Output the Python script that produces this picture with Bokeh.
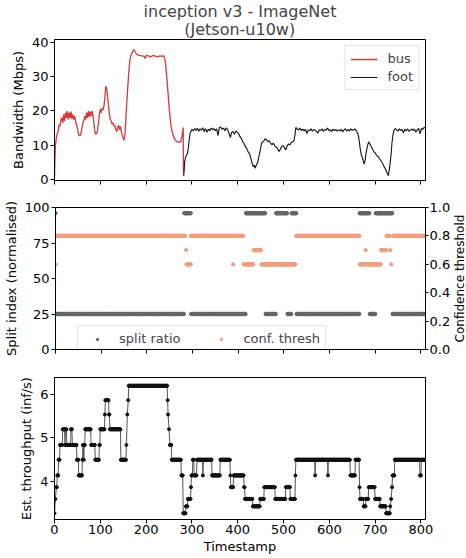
import math
from bokeh.plotting import figure
from bokeh.layouts import column, row
from bokeh.models import (Range1d, LinearAxis, Legend, LegendItem, Title, FixedTicker, PrintfTickFormatter,
                          Spacer)
from bokeh.core.properties import value
from bokeh.embed import file_html
from bokeh.resources import INLINE

FONT = "DejaVu Sans"

# ---------------- data ----------------
bus_t = [0, 1, 2, 4, 6, 8, 10, 12, 14, 16, 18, 20, 22, 24, 26, 28, 30, 32, 34, 36, 38, 40, 42, 44, 46, 48,
         50, 52, 54, 56, 58, 60, 62, 64, 66, 68, 70, 72, 74, 76, 78, 80, 82, 84, 86, 88, 90, 92, 94, 96, 98,
         100, 102, 104, 106, 108, 110, 112, 114, 116, 118, 120, 122, 124, 126, 128, 130, 132, 134, 136, 138,
         140, 142, 144, 146, 148, 150, 152, 154, 156, 158, 160, 162, 164, 166, 168, 170, 172, 174, 176, 178,
         180, 185, 190, 195, 198, 200, 205, 210, 215, 220, 225, 230, 235, 238, 240, 242, 244, 246, 248, 250,
         252, 254, 256, 258, 260, 262, 264, 266, 268, 270, 272, 274, 276, 278, 280, 281, 281.5]
bus_bw = [0.5, 6, 10, 12, 13.5, 14, 16, 15.5, 17.5, 18, 16.5, 19, 17, 19.5, 18, 20, 17.5, 19.5, 18, 19.8, 17.6,
          19, 17.5, 18.5, 17, 16, 15, 13.5, 12.8, 12.8, 13.5, 15, 16.5, 17.2, 18.5, 17.5, 19.5, 18, 20, 18.3,
          19.8, 18.5, 20, 18.8, 16.5, 14, 13.2, 13.4, 14.5, 16.5, 19, 20.5, 19.5, 20.8, 20.3, 21.5, 24, 27.2,
          26.5, 24, 21.5, 19, 17.5, 17, 16.2, 16.5, 15.5, 15.8, 14.5, 14, 15.2, 15.8, 14.5, 15.5, 13.8, 12.8,
          12, 11.5, 13.5, 18, 23, 27, 31, 34, 35.8, 36.5, 37.2, 37.8, 37.9, 37.3, 36.8, 36.5, 36.2, 36.1, 36,
          35.3, 36.2, 36.1, 35.8, 36.2, 36, 35.8, 36.1, 35.9, 36.2, 35.5, 34.5, 31.5, 28.5, 25, 21.5, 18.5, 16,
          14.5, 13.5, 12.5, 12, 11.5, 11.2, 11, 11, 10.8, 11, 11.2, 12.5, 14, 15.2, 1.8]

foot_t = [282, 283, 284, 286, 288, 290, 292, 294, 296, 298, 300, 303, 306, 309, 312, 315, 318, 321, 324, 327,
          330, 333, 336, 339, 342, 345, 348, 351, 354, 357, 360, 363, 366, 369, 372, 375, 378, 381, 384, 387,
          390, 393, 396, 399, 402, 405, 408, 411, 414, 417, 420, 423, 426, 429, 432, 434, 436, 438, 440, 442,
          444, 446, 448, 450, 452, 454, 457, 460, 463, 466, 469, 472, 475, 478, 481, 484, 487, 490, 493, 496,
          499, 502, 505, 508, 511, 514, 517, 520, 523, 525, 527, 530, 533, 536, 539, 542, 545, 548, 551, 554,
          557, 560, 563, 566, 569, 572, 575, 578, 581, 584, 587, 590, 593, 596, 599, 602, 605, 608, 611, 614,
          617, 620, 623, 626, 629, 632, 635, 638, 641, 644, 647, 650, 653, 656, 659, 662, 664, 666, 668, 670,
          672, 674, 676, 678, 680, 682, 684, 686, 688, 690, 692, 694, 696, 698, 700, 702, 704, 706, 708, 710,
          712, 714, 716, 718, 720, 722, 724, 726, 728, 729, 731, 733, 735, 737, 739, 741, 744, 747, 750, 753,
          756, 759, 762, 765, 768, 771, 774, 777, 780, 783, 786, 789, 792, 795, 798, 801, 804, 807, 810]
foot_bw = [1, 2.5, 5, 6.5, 7, 7.5, 9, 11.5, 13.5, 14, 14.6, 14.2, 14.9, 14.3, 15, 14.1, 14.8, 14.4, 15.1, 14,
           14.8, 13.8, 14.7, 14.2, 15, 14.5, 14.9, 14.2, 14.8, 12.8, 15.2, 15.3, 14.6, 15, 14.2, 15.1, 14.5,
           13.5, 12.2, 13.8, 14, 13.2, 14.2, 13.8, 13.4, 12.5, 12, 11, 10.5, 9.5, 9, 8, 7.5, 6, 4.5, 3.8, 4.2,
           3.3, 4, 4.6, 5.2, 6.5, 7.8, 9, 10.5, 11, 11.2, 11.9, 11.6, 11, 11.3, 10.5, 10.2, 10.6, 9.8, 9.5, 9,
           8.2, 8.8, 9.6, 9.9, 9.3, 8.6, 9.8, 10.4, 10.1, 10.8, 11, 11.3, 13, 15.2, 14.7, 14.5, 15, 14.3, 14.7,
           14.2, 14.6, 13.4, 14.5, 14.2, 14.8, 14.1, 14.6, 14.4, 14.1, 13.5, 14.5, 14.3, 14.8, 14, 14.6, 14.4,
           15, 14.3, 14.5, 14, 14.7, 14.3, 14.6, 14.1, 14.5, 14.2, 14.7, 13.9, 14.5, 14.8, 14.1, 14.6, 14.2,
           14.8, 14.3, 14.6, 14.7, 14.2, 13.5, 12.5, 10.5, 8.5, 7, 6.5, 5.5, 4.5, 5.5, 7.5, 9, 10.2, 11, 10.5,
           10, 9.5, 9, 8.4, 8, 7.8, 7.3, 7, 6.7, 6.5, 6, 5.6, 5.2, 4.8, 4.2, 3.6, 3.2, 2.6, 2, 1.4, 1.1, 3, 5,
           7.5, 11, 13, 14.2, 14.9, 14.5, 14.1, 14.8, 14.3, 14.6, 13.6, 14.7, 14.2, 14.8, 14.1, 14.4, 14.8,
           14.3, 14.7, 13.8, 14.5, 14.9, 13.3, 14.9, 14.6, 15.2, 15]

# runs of (first timestamp, last timestamp, value)
split_runs = [(0, 0, 96), (2, 281, 25), (282, 296, 96), (297, 416, 25), (417, 459, 96), (460, 482, 25),
              (483, 507, 96), (508, 516, 25), (517, 527, 96), (528, 665, 25), (666, 687, 96), (688, 700, 25),
              (701, 737, 96), (738, 810, 25)]
conf_runs = [(0, 0, 0.6), (2, 284, 0.8), (286, 286, 0.7), (287, 296, 0.6), (297, 387, 0.8), (389, 389, 0.6),
             (391, 411, 0.8), (412, 433, 0.6), (434, 450, 0.7), (451, 525, 0.6), (527, 665, 0.8),
             (666, 677, 0.6), (679, 679, 0.7), (681, 712, 0.6), (713, 724, 0.7), (725, 731, 0.8),
             (733, 733, 0.7), (735, 735, 0.6), (739, 810, 0.8)]
thr_runs = [(0, 0, 3.27), (2, 2, 3.6), (4, 5, 3.87), (6, 8, 4.14), (9, 11, 4.5), (12, 17, 4.84), (18, 22, 5.2),
            (23, 23, 4.84), (24, 26, 5.2), (27, 35, 4.84), (36, 38, 5.2), (39, 48, 4.84), (49, 52, 4.5),
            (53, 60, 4.14), (61, 61, 4.5), (62, 63, 4.84), (64, 64, 4.5), (65, 66, 4.84), (67, 79, 5.2),
            (80, 88, 4.84), (89, 97, 4.5), (98, 99, 4.84), (100, 109, 5.2), (110, 110, 5.54), (111, 118, 5.87),
            (119, 120, 5.54), (121, 144, 5.2), (145, 156, 4.5), (157, 157, 4.84), (159, 159, 5.54),
            (161, 161, 5.87), (162, 246, 6.2), (247, 247, 5.87), (248, 248, 5.54), (250, 250, 5.2),
            (252, 255, 4.84), (256, 276, 4.5), (277, 280, 4.14), (281, 286, 3.27), (287, 290, 3.43),
            (291, 297, 3.6), (298, 298, 3.87), (299, 301, 4.14), (302, 304, 4.5), (305, 310, 4.14),
            (311, 323, 4.5), (324, 324, 4.14), (325, 343, 4.5), (344, 361, 4.14), (362, 383, 4.5),
            (384, 384, 4.14), (385, 390, 3.87), (391, 413, 4.14), (414, 415, 3.87), (416, 432, 3.6),
            (433, 448, 3.43), (449, 457, 3.6), (458, 481, 3.87), (482, 504, 3.6), (505, 514, 3.87),
            (515, 525, 3.6), (526, 526, 4.14), (527, 568, 4.5), (569, 569, 4.14), (570, 596, 4.5),
            (597, 597, 4.14), (598, 645, 4.5), (646, 656, 4.14), (657, 665, 4.5), (666, 666, 3.87),
            (667, 674, 3.6), (675, 679, 3.43), (680, 685, 3.6), (686, 699, 3.87), (700, 710, 3.6),
            (711, 723, 3.43), (724, 732, 3.27), (733, 733, 3.43), (735, 735, 3.6), (737, 737, 3.87),
            (738, 742, 4.14), (743, 797, 4.5), (798, 800, 4.14), (801, 810, 4.5)]

x_ticks = [0, 100, 200, 300, 400, 500, 600, 700, 800]
bw_ticks = [0, 10, 20, 30, 40]
split_ticks = [0, 25, 50, 75, 100]
conf_ticks = [0.0, 0.2, 0.4, 0.6, 0.8, 1.0]
thr_ticks = [4, 5, 6]


def expand(runs):
    ts, vs = [], []
    for s, e, v in runs:
        for t in range(s, e + 1):
            ts.append(t)
            vs.append(v)
    return ts, vs


def style(p):
    p.outline_line_color = "black"
    p.outline_line_width = 1
    p.outline_line_alpha = 1
    p.xgrid.visible = False
    p.ygrid.visible = False
    p.background_fill_color = "white"
    p.border_fill_color = "white"
    for ax in p.axis:
        ax.axis_line_color = "black"
        ax.major_tick_line_color = "black"
        ax.minor_tick_line_color = None
        ax.major_tick_out = 4
        ax.major_tick_in = 0
        ax.major_label_text_font = FONT
        ax.major_label_text_font_size = "13px"
        ax.major_label_text_color = "black"
        ax.axis_label_text_font = FONT
        ax.axis_label_text_font_size = "13px"
        ax.axis_label_text_font_style = "normal"
        ax.axis_label_text_color = "black"
        ax.major_label_standoff = 2
        ax.axis_label_standoff = 3


def hide_x_labels(p):
    p.xaxis.major_label_text_font_size = "1px"
    p.xaxis.major_label_text_color = None
    p.xaxis.major_label_standoff = 0


LB = 54      # left border of each panel
FW = 371     # plot-area width
RB = 28      # right border of each panel
SW = 12      # width of the strip to the right of each panel
W = LB + FW + RB
NB = "\u00a0" * 8

# ---------------- panel 1 ----------------
P1_TOP, P1_FH, P1_BOT = 37, 143, 13
H1 = P1_TOP + P1_FH + P1_BOT
p1 = figure(width=W, height=H1, x_range=Range1d(0, 810), y_range=Range1d(-0.29, 40.86),
            output_backend="svg", toolbar_location=None,
            min_border_left=LB, min_border_right=RB, min_border_top=P1_TOP, min_border_bottom=P1_BOT)
r_bus = p1.line(bus_t, bus_bw, line_color="#d33a3a", line_width=1.3)
r_foot = p1.line(foot_t, foot_bw, line_color="#111111", line_width=1.1)
p1.yaxis.axis_label = "Bandwidth (Mbps)"
p1.yaxis.ticker = FixedTicker(ticks=bw_ticks)
p1.xaxis.ticker = FixedTicker(ticks=x_ticks)
style(p1)
hide_x_labels(p1)
leg1 = Legend(items=[LegendItem(label="bus", renderers=[r_bus]), LegendItem(label="foot", renderers=[r_foot])],
              location="top_right", label_text_font=FONT, label_text_font_size="13px",
              glyph_width=27, glyph_height=14, label_standoff=10, spacing=3, padding=5, margin=6,
              border_line_color="#cccccc", border_line_width=1, background_fill_alpha=0.8)
p1.add_layout(leg1)
p1.add_layout(Title(text="inception v3 - ImageNet\n" + NB + "(Jetson-u10w)", align="center", text_font=FONT,
                    text_font_size="16px", text_font_style="normal", text_line_height=0.95,
                    standoff=0), "above")

# ---------------- panel 2 ----------------
P2_TOP, P2_FH, P2_BOT = 14, 142, 14
H2 = P2_TOP + P2_FH + P2_BOT
p2 = figure(width=W, height=H2, x_range=Range1d(0, 810), y_range=Range1d(0, 100),
            output_backend="svg", toolbar_location=None,
            min_border_left=LB, min_border_right=RB, min_border_top=P2_TOP, min_border_bottom=P2_BOT)
p2.extra_y_ranges = {"conf": Range1d(0, 1)}
p2.add_layout(LinearAxis(y_range_name="conf", ticker=FixedTicker(ticks=conf_ticks),
                         formatter=PrintfTickFormatter(format="%.1f")), "right")
st, sv = expand(split_runs)
ct, cv = expand(conf_runs)
r_split = p2.scatter(st, sv, size=3.3, color="#666666")
r_conf = p2.scatter(ct, cv, size=3.3, color="#efa07f", y_range_name="conf")
p2.yaxis[0].axis_label = "Split index (normalised)"
p2.yaxis[0].ticker = FixedTicker(ticks=split_ticks)
p2.xaxis.ticker = FixedTicker(ticks=x_ticks)
style(p2)
ra = p2.yaxis[1]
ra.major_tick_out = 3
ra.major_label_standoff = 1
hide_x_labels(p2)
leg2 = Legend(items=[LegendItem(label="split ratio", renderers=[r_split]),
                     LegendItem(label="conf. thresh", renderers=[r_conf])],
              location=(22, -3), orientation="horizontal", label_text_font=FONT, label_text_font_size="13px",
              glyph_width=28, glyph_height=6, label_standoff=8, spacing=27, padding=5, margin=0,
              border_line_color="#cccccc", border_line_width=1, background_fill_alpha=0.8)
p2.add_layout(leg2)

# narrow strip holding the right-hand axis title (reads bottom-to-top)
lab = figure(width=SW, height=H2, x_range=Range1d(0, 1), y_range=Range1d(0, H2),
             output_backend="svg", toolbar_location=None, x_axis_location=None, y_axis_location=None,
             min_border=0)
lab.outline_line_color = None
lab.xgrid.visible = False
lab.ygrid.visible = False
lab.text(x=[0.5], y=[P2_BOT + P2_FH / 2], text=["Confidence threshold"], angle=math.pi / 2,
         text_align="center", text_baseline="middle", text_font=value(FONT), text_font_size="12px",
         text_color="black")

# ---------------- panel 3 ----------------
P3_TOP, P3_FH, P3_BOT = 14, 142, 38
H3 = P3_TOP + P3_FH + P3_BOT
p3 = figure(width=W, height=H3, x_range=Range1d(0, 810), y_range=Range1d(3.127, 6.39),
            output_backend="svg", toolbar_location=None,
            min_border_left=LB, min_border_right=RB, min_border_top=P3_TOP, min_border_bottom=P3_BOT)
tt, tv = expand(thr_runs)
p3.line(tt, tv, line_color="#555555", line_width=1)
p3.scatter(tt, tv, size=3, color="#111111")
p3.yaxis.axis_label = "Est. throughput (inf/s)"
p3.xaxis.axis_label = "Timestamp"
p3.yaxis.ticker = FixedTicker(ticks=thr_ticks)
p3.xaxis.ticker = FixedTicker(ticks=x_ticks)
style(p3)
p3.xaxis.major_label_standoff = 1
p3.xaxis.axis_label_standoff = 2

layout = column(row(p1, Spacer(width=SW, height=10), spacing=0),
                row(p2, lab, spacing=0),
                row(p3, Spacer(width=SW, height=10), spacing=0), spacing=0)
open("out.html", "w").write(file_html(layout, INLINE))
